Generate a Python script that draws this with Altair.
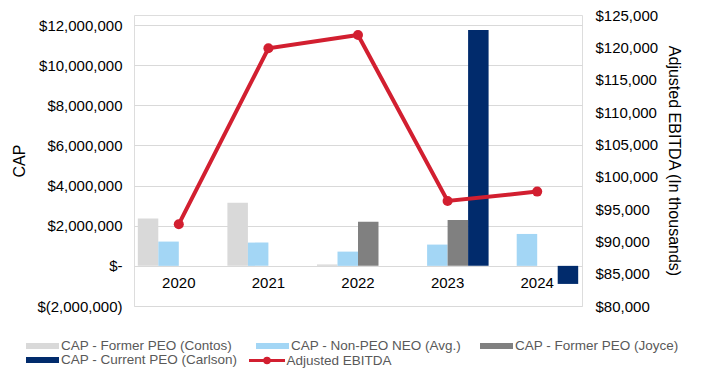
import altair as alt
import pandas as pd

# ---------------- data ----------------
years = ["2020", "2021", "2022", "2023", "2024"]
series = [
    "CAP - Former PEO (Contos)",
    "CAP - Non-PEO NEO (Avg.)",
    "CAP - Former PEO (Joyce)",
    "CAP - Current PEO (Carlson)",
]
cap_contos = [2360000, 3150000, 70000, None, None]
cap_non_peo = [1210000, 1160000, 710000, 1060000, 1590000]
cap_joyce = [None, None, 2200000, 2280000, None]
cap_carlson = [None, None, None, 11750000, -900000]

line_name = "Adjusted EBITDA"
ebitda = [92650, 119850, 121900, 96250, 97690]

cap_ticks = [-2000000, 0, 2000000, 4000000, 6000000, 8000000, 10000000, 12000000]
ebitda_ticks = [80000, 85000, 90000, 95000, 100000, 105000, 110000, 115000, 120000, 125000]

bar_colors = ["#D9D9D9", "#A3D6F5", "#808080", "#012B6C"]
line_color = "#D21F30"
text_color = "#595959"
font = "Liberation Sans"

# ---------------- tables ----------------
rows = []
for name, vals in zip(series, [cap_contos, cap_non_peo, cap_joyce, cap_carlson]):
    for yr, v in zip(years, vals):
        if v is not None:
            rows.append({"year": yr, "series": name, "value": v})
bars_df = pd.DataFrame(rows)
line_df = pd.DataFrame({"year": years, "ebitda": ebitda, "name": line_name})

x_enc = alt.X(
    "year:N",
    sort=years,
    scale=alt.Scale(domain=years, paddingInner=0.085, paddingOuter=0.0425),
    axis=alt.Axis(
        orient="bottom", offset=-41, domain=False, ticks=False, tickSize=0,
        labelPadding=10, labelAngle=0, labelFontSize=15, title=None, grid=False,
    ),
)

bar_symbol = "M-1,-0.4 H3.4 V0.4 H-1 Z"
line_symbol = "M-1,0 H3.8 M1.7,0 A0.3,0.3 0 1,1 1.1,0 A0.3,0.3 0 1,1 1.7,0 Z"

cap_label = (
    "datum.value == 0 ? '$-\u00a0\u00a0' : "
    "(datum.value < 0 ? '$(' + format(-datum.value, ',') + ')' : "
    "'$' + format(datum.value, ',') + '\u00a0')"
)

bars = alt.Chart(bars_df).mark_bar().encode(
    x=x_enc,
    xOffset=alt.XOffset(
        "series:N", sort=series,
        scale=alt.Scale(domain=series, paddingInner=0, paddingOuter=0),
    ),
    y=alt.Y(
        "value:Q",
        scale=alt.Scale(domain=[-2000000, 12500000], nice=False),
        axis=alt.Axis(
            values=cap_ticks, grid=True, gridColor="#D9D9D9", gridWidth=1,
            domain=False, ticks=False, tickSize=0, labelPadding=12,
            labelExpr=cap_label, labelFontSize=15, title="CAP",
            titleFontSize=16, titlePadding=9, titleFontWeight="normal",
        ),
    ),
    fill=alt.Fill(
        "series:N",
        sort=series,
        scale=alt.Scale(domain=series, range=bar_colors),
        legend=alt.Legend(
            orient="none", legendX=-108, legendY=323.5, columns=3,
            direction="horizontal",
            symbolType=bar_symbol, symbolSize=225, symbolStrokeWidth=0,
            labelOffset=20, labelFontSize=13.5, labelColor=text_color,
            labelFont=font, labelLimit=300, title=None, columnPadding=18,
            rowPadding=0, padding=0, symbolOpacity=1,
        ),
    ),
)

right_y = alt.Y(
    "ebitda:Q",
    scale=alt.Scale(domain=[80000, 125000], nice=False, zero=False),
    axis=alt.Axis(
        orient="right", values=ebitda_ticks, format="$,.0f", grid=False,
        domain=False, ticks=False, tickSize=0, labelPadding=13,
        labelFontSize=15, title="Adjusted EBITDA (In thousands)",
        titleFontSize=16, titlePadding=8, titleFontWeight="normal",
    ),
)

line = alt.Chart(line_df).mark_line(strokeWidth=4).encode(
    x=x_enc,
    y=right_y,
    stroke=alt.Stroke(
        "name:N",
        scale=alt.Scale(domain=[line_name], range=[line_color]),
        legend=alt.Legend(
            orient="none", legendX=113.5, legendY=336.5,
            symbolType=line_symbol, symbolSize=225, symbolStrokeWidth=3,
            symbolFillColor=line_color, labelOffset=21, labelFontSize=13.5,
            labelColor=text_color, labelFont=font, title=None, padding=0,
        ),
    ),
)

points = alt.Chart(line_df).mark_circle(size=100, color=line_color, opacity=1).encode(
    x=x_enc,
    y=right_y,
)

chart = (
    alt.layer(bars, alt.layer(line, points))
    .resolve_scale(y="independent")
    .properties(
        width=448,
        height=291,
        autosize=alt.AutoSizeParams(type="none"),
        padding={"left": 126, "right": 112, "top": 7, "bottom": 62},
    )
    .configure_view(strokeWidth=0)
    .configure_axis(
        labelFont=font, titleFont=font, labelColor=text_color,
        titleColor=text_color, titleFontWeight="normal",
    )
    .configure(background="white")
)

chart.save("out.html", embed_options={"renderer": "svg", "actions": False})
